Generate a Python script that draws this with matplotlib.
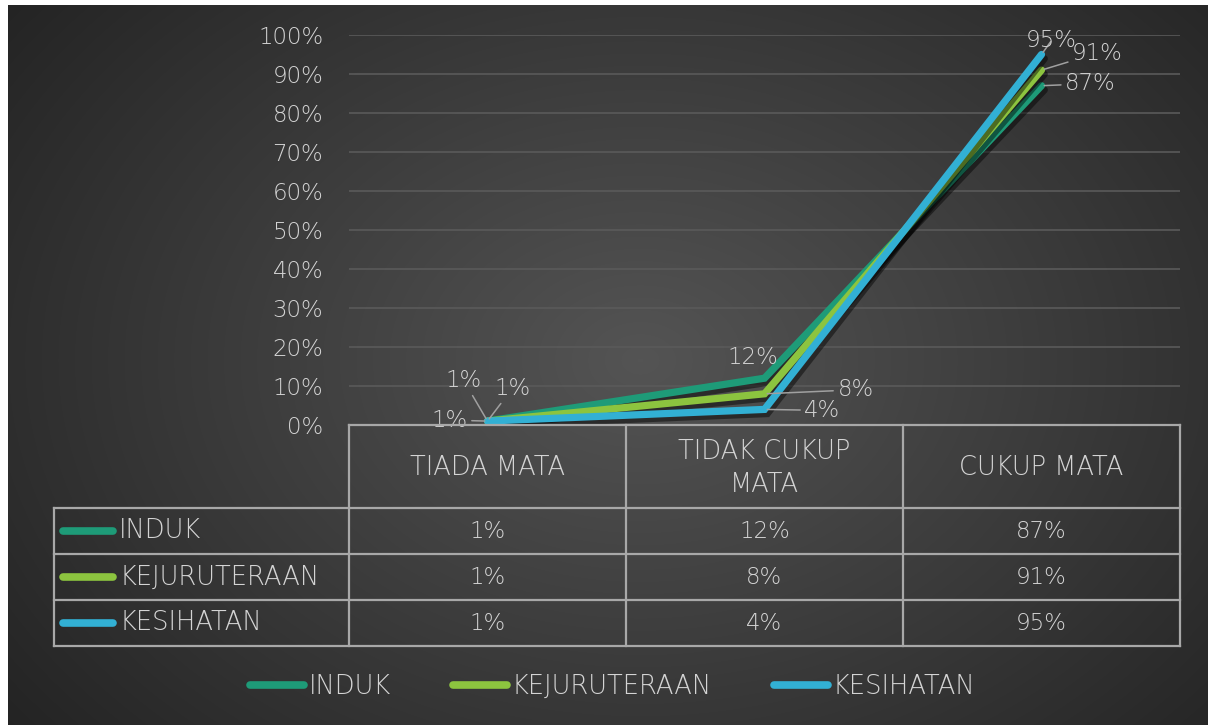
import numpy as np
import matplotlib.pyplot as plt
import matplotlib.patheffects as pe
from matplotlib.lines import Line2D

# categories, series and values
categories = ["TIADA MATA", "TIDAK CUKUP\nMATA", "CUKUP MATA"]
series = ["INDUK", "KEJURUTERAAN", "KESIHATAN"]
induk = [0.01, 0.12, 0.87]
kejuruteraan = [0.01, 0.08, 0.91]
kesihatan = [0.01, 0.04, 0.95]
values = [induk, kejuruteraan, kesihatan]
ytick_values = [0.0, 0.1, 0.2, 0.3, 0.4, 0.5, 0.6, 0.7, 0.8, 0.9, 1.0]

colors = ["#1e9b78", "#8cc43f", "#32b0d4"]
text_col = "#d4d4d4"
grid_col = "#5a5a5a"
table_col = "#a8a8a8"
FONT = "DejaVu Sans"
FW = 200
FS = 16.5      # numbers
FS_WORD = 18.5  # upper-case words

# label offsets (pixels) per series / point, flag = draw leader line
label_offsets = [
    [(-38, 1, True), (-12, 21, False), (49, 2, True)],
    [(-24, 41, True), (91, 4, True), (56, 17, True)],
    [(25, 33, True), (58, -1, True), (10, 14, True)],
]

W, H = 1208, 725
fig = plt.figure(figsize=(W / 100, H / 100), dpi=100)
plt.rcParams['font.family'] = [FONT]

# background: white margin with dark radial gradient panel
bg = fig.add_axes([0, 0, 1, 1])
yy, xx = np.mgrid[0:H, 0:W]
r = np.sqrt(((xx - 640) / 760.0) ** 2 + ((yy - 360) / 560.0) ** 2)
shade = np.clip(0.33 - 0.18 * r, 0.14, 0.33)
img = np.dstack([shade, shade, shade])
img[:5, :, :] = 1.0
img[:, :8, :] = 1.0
bg.imshow(img, extent=(0, W, H, 0), aspect='auto', interpolation='bilinear')
bg.set_xlim(0, W)
bg.set_ylim(H, 0)
bg.axis('off')

# plot area
x0, x1, y0, y1 = 349, 1180, 425, 35
ax = fig.add_axes([x0 / W, 1 - y0 / H, (x1 - x0) / W, (y0 - y1) / H])
ax.patch.set_alpha(0)
x = np.arange(len(categories))
ax.set_xlim(-0.5, len(categories) - 0.5)
ax.set_ylim(0, 1)
ax.set_yticks(ytick_values)
ax.set_yticklabels([f"{int(round(v * 100))}%" for v in ytick_values],
                   color=text_col, fontsize=FS, fontweight=FW)
ax.set_xticks([])
ax.tick_params(axis='y', length=0, pad=18.5)
ax.yaxis.grid(True, color=grid_col, lw=1.2)
ax.set_axisbelow(True)
for s in ax.spines.values():
    s.set_visible(False)

for i, (name, vals) in enumerate(zip(series, values)):
    ax.plot(x, vals, color=colors[i], lw=5.2, solid_capstyle='round',
            solid_joinstyle='miter', zorder=3 + i,
            path_effects=[pe.SimpleLineShadow(offset=(2, -3), shadow_color='black',
                                              alpha=0.45),
                          pe.Normal()])
    for j, v in enumerate(vals):
        dx, dy, leader = label_offsets[i][j]
        ax.annotate(f"{int(round(v * 100))}%", (x[j], v), xytext=(dx, dy),
                    textcoords='offset pixels', ha='center', va='center',
                    color=text_col, fontsize=FS, fontweight=FW, zorder=10,
                    arrowprops=dict(arrowstyle='-', color='#a0a0a0', lw=1.1,
                                    shrinkA=1, shrinkB=2) if leader else None)

# data table below the plot
tab = fig.add_axes([0, 0, 1, 1])
tab.set_xlim(0, W)
tab.set_ylim(H, 0)
tab.axis('off')
tab.patch.set_alpha(0)
col_w = (x1 - x0) / len(categories)
left = 54
head_bot = 508
row_h = 46
bottom = head_bot + row_h * len(series)
lk = dict(color=table_col, lw=1.6)
tab.plot([x0, x1], [y0, y0], **lk)
for k in range(len(series) + 1):
    yk = head_bot + k * row_h
    tab.plot([left, x1], [yk, yk], **lk)
tab.plot([left, left], [head_bot, bottom], **lk)
for c in range(len(categories) + 1):
    xc = x0 + c * col_w
    tab.plot([xc, xc], [y0, bottom], **lk)

for c, cat in enumerate(categories):
    tab.text(x0 + (c + 0.5) * col_w, (y0 + head_bot) / 2 + 1, cat, ha='center',
             va='center', color=text_col, fontsize=FS_WORD, fontweight=FW,
             linespacing=1.4)

for i, (name, vals) in enumerate(zip(series, values)):
    yc = head_bot + (i + 0.5) * row_h
    tab.plot([63, 113], [yc, yc], color=colors[i], lw=5.5, solid_capstyle='round')
    tab.text(119, yc, name, ha='left', va='center', color=text_col,
             fontsize=FS_WORD, fontweight=FW)
    for c, v in enumerate(vals):
        tab.text(x0 + (c + 0.5) * col_w, yc, f"{int(round(v * 100))}%",
                 ha='center', va='center', color=text_col, fontsize=FS,
                 fontweight=FW)

# legend
handles = [Line2D([0], [0], color=colors[i], lw=5.5, solid_capstyle='round')
           for i in range(len(series))]
leg = fig.legend(handles, series, loc='center', bbox_to_anchor=(0.507, 1 - 686 / H),
                 ncol=3, frameon=False, fontsize=FS_WORD, handlelength=2.1,
                 handletextpad=0.2, columnspacing=2.4)
for t in leg.get_texts():
    t.set_color(text_col)
    t.set_fontweight(FW)

fig.savefig("out.png", dpi=100)
